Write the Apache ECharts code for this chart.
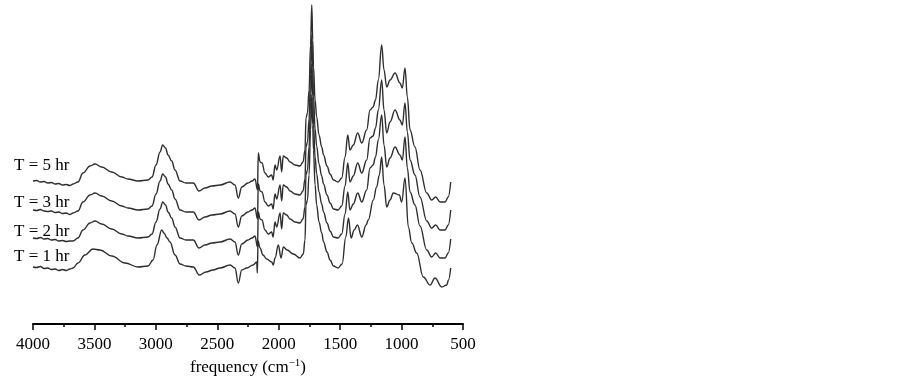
<!DOCTYPE html>
<html>
<head>
<meta charset="utf-8">
<script src="https://cdn.jsdelivr.net/npm/echarts@6/dist/echarts.min.js"></script>
<style>
  html, body { margin: 0; padding: 0; background: #fff; }
  #irChart { width: 902px; height: 378px; }
</style>
</head>
<body>
<div id="irChart"></div>
<script>
// IR spectra, [wavenumber cm-1, intensity a.u.] (stacked, offset already in the values)
const trace5 = [[4000,143],[3970,143.5],[3940,142],[3910,142.5],[3880,141],[3850,141.5],[3820,140],[3790,140.5],[3760,139],[3730,139.5],[3700,138.5],[3674,140],[3634,142],[3593,151],[3536,158],[3495,160],[3441,157],[3359,152],[3278,147],[3227,145],[3145,143],[3064,144],[3031,147],[2999,159],[2966,172],[2944,179],[2921,176],[2901,169],[2871,163],[2844,154],[2803,143],[2755,141],[2695,141],[2649,133],[2600,136],[2543,138],[2478,139],[2396,142],[2356,139],[2329,126],[2301,137],[2250,141],[2217,143],[2193,145],[2173,134],[2166,171],[2152,162],[2136,161],[2112,151],[2085,147],[2057,149],[2046,144],[2030,159],[2016,154],[1989,168],[1976,152],[1963,168],[1935,166],[1908,162],[1867,159],[1827,158],[1802,162],[1786,174],[1778,206],[1766,211],[1753,234],[1741,279],[1731,319],[1723,284],[1717,257],[1704,224],[1691,207],[1672,189],[1650,177],[1635,169],[1607,158],[1582,150],[1554,144],[1517,142],[1487,146],[1460,167],[1438,189],[1420,174],[1393,179],[1357,191],[1324,181],[1284,194],[1257,214],[1232,217],[1212,224],[1189,244],[1162,279],[1143,254],[1121,237],[1094,244],[1053,251],[1013,241],[994,236],[972,256],[953,227],[931,194],[891,177],[850,154],[795,131],[755,124],[722,127],[687,122],[646,122],[620,127],[600,142]];

const trace3 = [[4000,114],[3970,113.5],[3940,114.5],[3910,113],[3880,112.5],[3850,113],[3820,111.5],[3790,112],[3760,110.5],[3730,111],[3700,109.5],[3674,111],[3634,113],[3593,122],[3536,129],[3495,131],[3441,128],[3359,123],[3278,118],[3227,116],[3145,114],[3064,115],[3031,118],[2999,130],[2966,143],[2944,150],[2921,147],[2901,140],[2871,134],[2844,125],[2803,114],[2755,112],[2695,112],[2649,104],[2600,107],[2543,109],[2478,110],[2396,113],[2356,110],[2329,97],[2301,108],[2250,112],[2217,114],[2193,116],[2173,105],[2166,140],[2152,133],[2136,132],[2112,122],[2085,118],[2057,120],[2046,115],[2030,130],[2016,125],[1989,139],[1976,123],[1963,139],[1935,137],[1908,133],[1867,130],[1827,129],[1802,133],[1786,145],[1778,177],[1766,182],[1753,205],[1741,250],[1731,289],[1723,255],[1717,228],[1704,195],[1691,178],[1672,160],[1650,148],[1635,140],[1607,129],[1582,121],[1554,115],[1517,114],[1487,118],[1460,138],[1438,161],[1420,142],[1393,148],[1357,161],[1324,151],[1284,164],[1257,186],[1232,188],[1212,196],[1189,214],[1162,244],[1143,214],[1121,191],[1094,202],[1053,214],[1013,204],[994,199],[972,221],[953,192],[931,164],[891,149],[850,127],[795,103],[755,96],[722,99],[687,94],[646,94],[620,99],[600,114]];

const trace2 = [[4000,86],[3970,85.5],[3940,86.5],[3910,85],[3880,85.5],[3850,84],[3820,84.5],[3790,83],[3760,83.5],[3730,82.5],[3700,83],[3674,83],[3634,86],[3593,94],[3536,101],[3495,103],[3441,100],[3359,95],[3278,90],[3227,88],[3145,86],[3064,87],[3031,90],[2999,102],[2966,115],[2944,122],[2921,119],[2901,112],[2871,106],[2844,97],[2803,86],[2755,84],[2695,84],[2649,76],[2600,79],[2543,81],[2478,82],[2396,85],[2356,82],[2329,69],[2301,80],[2250,84],[2217,86],[2193,88],[2173,77],[2166,112],[2152,105],[2136,104],[2112,94],[2085,90],[2057,92],[2046,87],[2030,102],[2016,97],[1989,111],[1976,95],[1963,111],[1935,109],[1908,105],[1867,102],[1827,101],[1802,105],[1786,117],[1778,149],[1766,154],[1753,177],[1741,222],[1731,260],[1723,227],[1717,200],[1704,167],[1691,150],[1672,132],[1650,120],[1635,112],[1607,101],[1582,93],[1554,87],[1517,86],[1487,90],[1460,110],[1438,132],[1420,114],[1393,120],[1357,131],[1324,122],[1284,134],[1257,156],[1232,159],[1212,167],[1189,184],[1162,209],[1143,179],[1121,157],[1094,166],[1053,177],[1013,169],[994,164],[972,187],[953,156],[931,132],[891,119],[850,98],[795,74],[755,67],[722,71],[687,66],[646,66],[620,71],[600,85]];

const trace1 = [[4000,57],[3970,56.5],[3940,57.5],[3910,55.5],[3880,56],[3850,54.5],[3820,55],[3790,53.5],[3760,54.5],[3730,53.5],[3700,55],[3674,56],[3634,61],[3577,69],[3512,75],[3455,74],[3359,68],[3251,61],[3145,57],[3064,58],[3023,64],[2991,79],[2952,94],[2934,91],[2909,86],[2885,82],[2844,69],[2803,60],[2755,58],[2695,57],[2646,49],[2592,52],[2535,54],[2478,56],[2396,59],[2356,56],[2329,41],[2301,54],[2260,56],[2209,59],[2179,62],[2174,51],[2168,83],[2152,76],[2128,69],[2098,65],[2057,62],[2044,59],[2030,66],[2003,79],[1981,66],[1962,77],[1932,74],[1881,70],[1827,66],[1800,70],[1786,84],[1778,119],[1766,124],[1753,149],[1741,194],[1731,229],[1723,199],[1717,174],[1704,139],[1691,119],[1672,102],[1650,91],[1635,82],[1607,72],[1582,64],[1554,58],[1517,56],[1484,60],[1454,87],[1432,106],[1411,86],[1386,94],[1359,99],[1324,87],[1289,99],[1271,104],[1230,124],[1203,137],[1181,149],[1162,167],[1143,139],[1121,117],[1094,124],[1067,131],[1018,129],[999,122],[972,146],[945,97],[917,81],[877,71],[823,47],[768,39],[728,46],[673,37],[632,39],[618,44],[600,56]];

const traceNames = ['T = 5 hr', 'T = 3 hr', 'T = 2 hr', 'T = 1 hr'];
const xTicks = [4000, 3500, 3000, 2500, 2000, 1500, 1000, 500];

const chartDom = document.getElementById('irChart');
const myChart = echarts.init(chartDom);

const fontSerif = '"Liberation Serif", "Times New Roman", serif';
const lineColor = '#2e2e2e';
const labelTops = [157, 194, 223, 248];

const mkLine = (name, data) => ({
    name: name,
    type: 'line',
    data: data,
    showSymbol: false,
    smooth: 0.4,
    smoothMonotone: 'x',
    lineStyle: { color: lineColor, width: 1.4 },
    itemStyle: { color: lineColor },
    silent: true
});

const option = {
    animation: false,
    backgroundColor: '#fff',
    grid: { left: 33, right: 439, top: 0, bottom: 54, containLabel: false, outerBoundsMode: 'none' },
    xAxis: {
        type: 'value',
        inverse: true,
        min: 500,
        max: 4000,
        interval: 500,
        name: '{a|frequency (cm}{b|−1}{a|)}',
        nameLocation: 'middle',
        nameGap: 34,
        nameTextStyle: {
            rich: {
                a: { fontFamily: fontSerif, fontSize: 17, color: '#000' },
                b: { fontFamily: fontSerif, fontSize: 11, color: '#000', padding: [0, 0, 9, 0] }
            }
        },
        axisLine: { show: true, lineStyle: { color: '#000', width: 2 } },
        axisTick: { show: true, inside: false, length: 6, lineStyle: { color: '#000', width: 1.5 } },
        minorTick: { show: true, splitNumber: 2, length: 3, lineStyle: { color: '#000', width: 1.5 } },
        axisLabel: {
            margin: 12,
            fontFamily: fontSerif,
            fontSize: 17,
            color: '#000',
            formatter: v => (xTicks.includes(v) ? String(v) : '')
        },
        splitLine: { show: false }
    },
    yAxis: {
        type: 'value',
        min: 0,
        max: 324,
        show: false
    },
    graphic: traceNames.map((t, i) => ({
        type: 'text',
        left: 14,
        top: labelTops[i],
        style: { text: t, font: '17px ' + fontSerif, fill: '#000' }
    })),
    series: [
        mkLine(traceNames[0], trace5),
        mkLine(traceNames[1], trace3),
        mkLine(traceNames[2], trace2),
        mkLine(traceNames[3], trace1)
    ]
};

myChart.setOption(option);
window.addEventListener('resize', () => myChart.resize());
</script>
</body>
</html>
